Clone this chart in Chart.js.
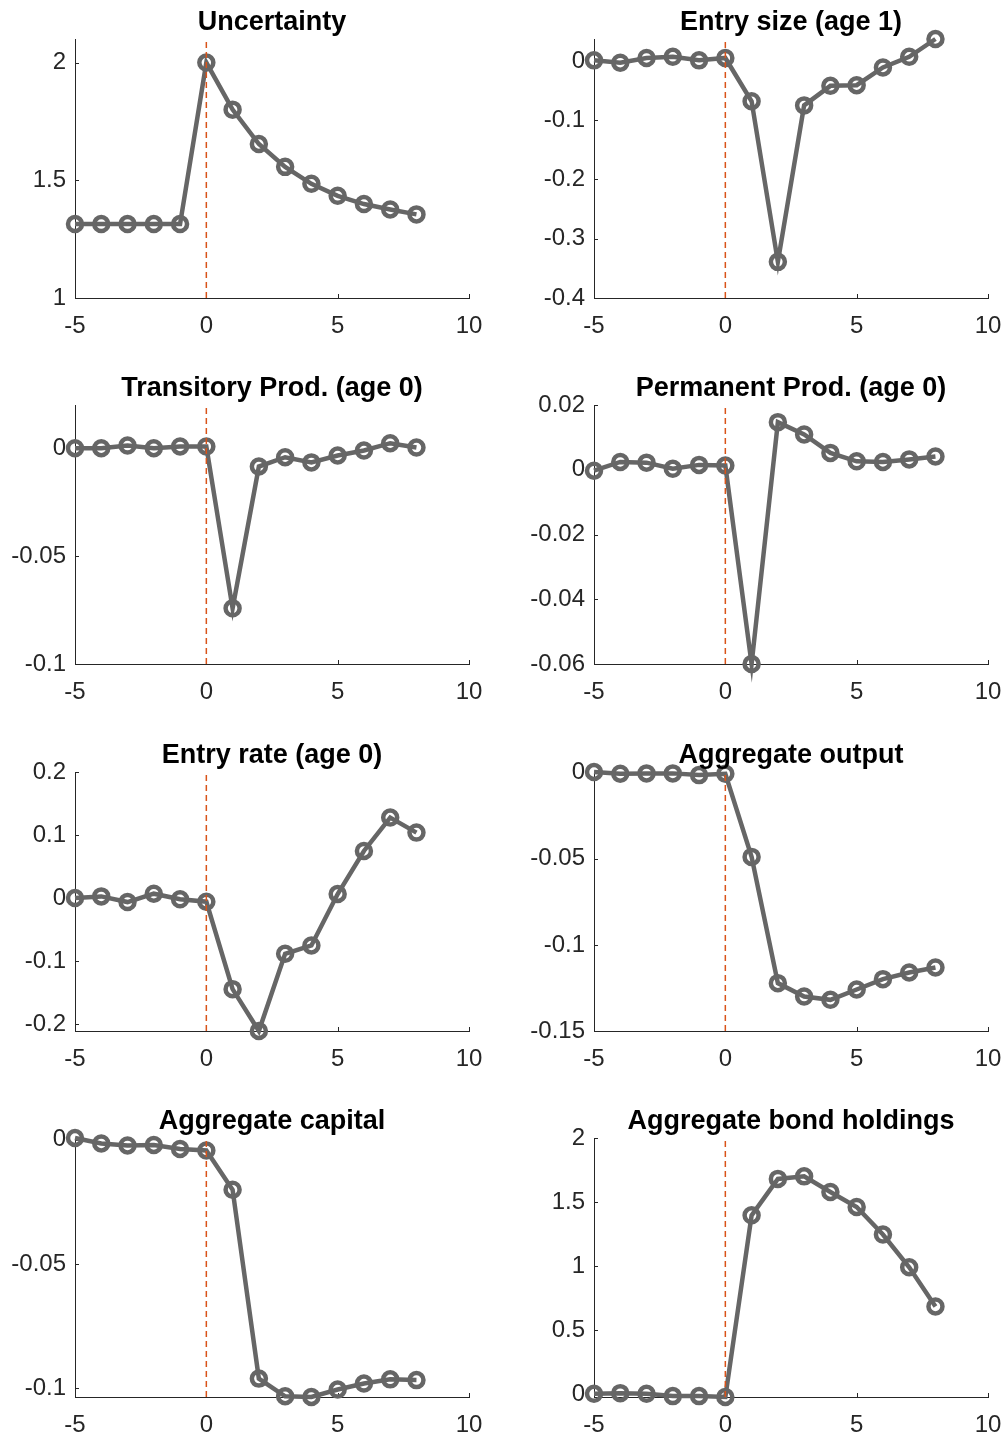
<!DOCTYPE html>
<html>
<head>
<meta charset="utf-8">
<script src="https://cdn.jsdelivr.net/npm/chart.js@4.4.1/dist/chart.umd.min.js"></script>
<style>
  html, body { margin: 0; padding: 0; background: #fff; overflow: hidden; }
  body { width: 1006px; height: 1435px; position: relative; }
  canvas { position: absolute; }
</style>
</head>
<body>
<canvas id="c0"></canvas><canvas id="c1"></canvas>
<canvas id="c2"></canvas><canvas id="c3"></canvas>
<canvas id="c4"></canvas><canvas id="c5"></canvas>
<canvas id="c6"></canvas><canvas id="c7"></canvas>
<script>
// periods relative to the shock
var periods = [-5, -4, -3, -2, -1, 0, 1, 2, 3, 4, 5, 6, 7, 8];
var shockPeriod = 0;

var titles = [
  "Uncertainty", "Entry size (age 1)",
  "Transitory Prod. (age 0)", "Permanent Prod. (age 0)",
  "Entry rate (age 0)", "Aggregate output",
  "Aggregate capital", "Aggregate bond holdings"
];

var uncertainty = [1.314, 1.314, 1.314, 1.314, 1.314, 2.0, 1.80, 1.654, 1.557, 1.485, 1.434, 1.399, 1.376, 1.355];
var entrySize = [0.001, -0.003, 0.005, 0.007, 0.001, 0.005, -0.068, -0.339, -0.075, -0.042, -0.041, -0.011, 0.007, 0.037];
var transProd = [0, 0, 0.0012, 0, 0.0008, 0.0008, -0.0742, -0.0085, -0.0042, -0.0066, -0.0034, -0.0011, 0.0023, 0.0003];
var permProd = [-0.0003, 0.0024, 0.0022, 0.0003, 0.0015, 0.0013, -0.0600, 0.0147, 0.0109, 0.0052, 0.0026, 0.0024, 0.0032, 0.0041];
var entryRate = [0, 0.0026, -0.0064, 0.0069, -0.002, -0.0058, -0.1446, -0.211, -0.0885, -0.0752, 0.0064, 0.0747, 0.1277, 0.1038];
var aggOutput = [0.0004, -0.0006, -0.0004, -0.0004, -0.0014, -0.0006, -0.0489, -0.1222, -0.1300, -0.1319, -0.1259, -0.1199, -0.116, -0.1131];
var aggCapital = [0.0007, -0.0015, -0.0023, -0.0021, -0.0037, -0.0043, -0.0201, -0.0961, -0.1032, -0.1035, -0.1005, -0.0981, -0.0964, -0.0967];
var bondHoldings = [0.005, 0.010, 0.005, -0.013, -0.013, -0.02, 1.397, 1.681, 1.701, 1.579, 1.462, 1.247, 0.992, 0.686];

var series = [uncertainty, entrySize, transProd, permProd, entryRate, aggOutput, aggCapital, bondHoldings];

// axis limits and tick values
var yMin = [1, -0.4, -0.1, -0.06, -0.211, -0.15, -0.1035, -0.02];
var yMax = [2.1, 0.037, 0.02, 0.02, 0.2, 0.0004, 0.0007, 2];
var yTicks = [
  [1, 1.5, 2],
  [-0.4, -0.3, -0.2, -0.1, 0],
  [-0.1, -0.05, 0],
  [-0.06, -0.04, -0.02, 0, 0.02],
  [-0.2, -0.1, 0, 0.1, 0.2],
  [-0.15, -0.1, -0.05, 0],
  [-0.1, -0.05, 0],
  [0, 0.5, 1, 1.5, 2]
];
var xTicks = [-5, 0, 5, 10];
var xMin = -5, xMax = 10;

// page layout (matlab subplot boxes)
var colCanvasLeft = [0, 503];
var colAreaLeft = [75, 594];
var colAreaRight = [469, 988];
var rowAreaTop = [39, 405, 772, 1138];
var rowAreaBottom = [298, 664, 1031, 1397];
var TITLE_SPACE = 39, Y_WIDTH = 75, X_HEIGHT = 37, CANVAS_W = 503;

var AXIS_COLOR = "#262626";
var FONT = "'Liberation Sans', Arial, Helvetica, sans-serif";

// matlab style inward ticks
var inwardTicks = {
  id: "inwardTicks",
  beforeDatasetsDraw: function (chart) {
    var ctx = chart.ctx;
    var area = chart.chartArea;
    var xs = chart.scales.x, ys = chart.scales.y;
    ctx.save();
    ctx.strokeStyle = AXIS_COLOR;
    ctx.lineWidth = 1;
    ctx.beginPath();
    xs.ticks.forEach(function (t) {
      var px = Math.round(xs.getPixelForValue(t.value)) + 0.5;
      ctx.moveTo(px, area.bottom);
      ctx.lineTo(px, area.bottom - 4);
    });
    ys.ticks.forEach(function (t) {
      var py = Math.round(ys.getPixelForValue(t.value)) + 0.5;
      ctx.moveTo(area.left, py);
      ctx.lineTo(area.left + 4, py);
    });
    ctx.stroke();
    ctx.restore();
  }
};

// bold title centred over the axes box
var panelTitle = {
  id: "panelTitle",
  afterDraw: function (chart, args, opts) {
    var ctx = chart.ctx;
    var area = chart.chartArea;
    ctx.save();
    ctx.font = "bold 27px " + FONT;
    ctx.fillStyle = "#000";
    ctx.textAlign = "center";
    ctx.textBaseline = "alphabetic";
    ctx.fillText(opts.text, (area.left + area.right) / 2, area.top - 9);
    ctx.restore();
  }
};

function makePanel(i) {
  var col = i % 2, row = Math.floor(i / 2);
  var canvas = document.getElementById("c" + i);
  var top = rowAreaTop[row] - TITLE_SPACE;
  var h = rowAreaBottom[row] - rowAreaTop[row] + TITLE_SPACE + X_HEIGHT;
  canvas.width = CANVAS_W;
  canvas.height = h;
  canvas.style.left = colCanvasLeft[col] + "px";
  canvas.style.top = top + "px";

  var pts = periods.map(function (p, k) { return { x: p, y: series[i][k] }; });
  var ticks = yTicks[i];

  return new Chart(canvas, {
    type: "line",
    data: {
      datasets: [
        {
          // shock date, dashed
          data: [{ x: shockPeriod, y: yMin[i] }, { x: shockPeriod, y: yMax[i] }],
          borderColor: "#D95319",
          borderWidth: 1.5,
          borderDash: [6, 4],
          pointRadius: 0,
          clip: false,
        },
        {
          data: pts,
          borderColor: "#666666",
          borderWidth: 4.5,
          pointRadius: 7,
          pointBorderWidth: 4.5,
          pointBorderColor: "#666666",
          pointBackgroundColor: "rgba(0,0,0,0)",
          tension: 0,
          clip: false,
        },
      ],
    },
    options: {
      responsive: false,
      animation: false,
      events: [],
      layout: {
        padding: {
          left: colAreaLeft[col] - colCanvasLeft[col] - Y_WIDTH,
          right: colCanvasLeft[col] + CANVAS_W - colAreaRight[col],
          top: TITLE_SPACE,
          bottom: 0,
        },
      },
      plugins: {
        legend: { display: false },
        tooltip: { enabled: false },
        panelTitle: { text: titles[i] },
      },
      scales: {
        x: {
          type: "linear",
          min: xMin,
          max: xMax,
          grid: { display: false, drawTicks: false },
          border: { display: true, color: AXIS_COLOR, width: 1 },
          afterBuildTicks: function (s) {
            s.ticks = xTicks.map(function (v) { return { value: v }; });
          },
          afterFit: function (s) {
            s.height = X_HEIGHT;
            s.paddingLeft = 0;
            s.paddingRight = 0;
          },
          ticks: {
            padding: 14,
            maxRotation: 0,
            autoSkip: false,
            color: AXIS_COLOR,
            font: { family: FONT, size: 24 },
            callback: function (v) { return String(v); },
          },
        },
        y: {
          type: "linear",
          min: yMin[i],
          max: yMax[i],
          grid: { display: false, drawTicks: false },
          border: { display: true, color: AXIS_COLOR, width: 1 },
          afterBuildTicks: function (s) {
            s.ticks = ticks.map(function (v) { return { value: v }; });
          },
          afterFit: function (s) {
            s.width = Y_WIDTH;
            s.paddingTop = 0;
            s.paddingBottom = 0;
          },
          ticks: {
            padding: 9,
            autoSkip: false,
            color: AXIS_COLOR,
            font: { family: FONT, size: 24 },
            callback: function (v) { return String(v); },
          },
        },
      },
    },
    plugins: [inwardTicks, panelTitle],
  });
}

for (var i = 0; i < 8; i++) {
  makePanel(i);
}
</script>
</body>
</html>
